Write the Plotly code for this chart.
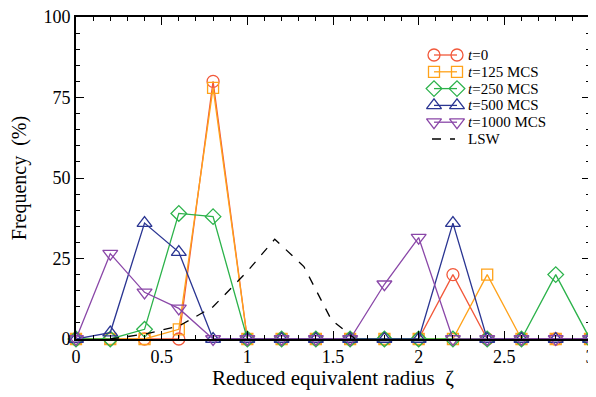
import plotly.graph_objects as go

# ---- data ----
x_vals = [0.0, 0.2, 0.4, 0.6, 0.8, 1.0, 1.2, 1.4, 1.6, 1.8, 2.0, 2.2, 2.4, 2.6, 2.8, 3.0]
t0 = [0, 0, 0, 0, 80, 0, 0, 0, 0, 0, 0, 20, 0, 0, 0, 0]
t125 = [0, 0, 0, 3, 78, 0, 0, 0, 0, 0, 0, 0, 20, 0, 0, 0]
t250 = [0, 0, 3, 39, 38, 0, 0, 0, 0, 0, 0, 0, 0, 0, 20, 0]
t500 = [0, 2, 36, 27, 0, 0, 0, 0, 0, 0, 0, 36, 0, 0, 0, 0]
t1000 = [0, 26.5, 14.5, 9.5, 0, 0, 0, 0, 0, 17, 31.5, 0, 0, 0, 0, 0]
lsw_x = [0.2, 0.4, 0.6, 0.8, 1.0, 1.16, 1.33, 1.49, 1.63]
lsw_y = [0, 1.5, 4, 10, 21, 31, 22.5, 6, 0]
x_ticks = [0, 0.5, 1, 1.5, 2, 2.5, 3]
x_ticklabels = ["0", "0.5", "1", "1.5", "2", "2.5", "3"]
y_ticks = [0, 25, 50, 75, 100]

names = ["<i>t</i>=0", "<i>t</i>=125 MCS", "<i>t</i>=250 MCS", "<i>t</i>=500 MCS", "<i>t</i>=1000 MCS"]
series = [t0, t125, t250, t500, t1000]
colors = ["#f2583a", "#ffa21a", "#2bb24a", "#2a3592", "#8a47a8"]
symbols = ["circle-open", "square-open", "diamond-open", "triangle-up-open", "triangle-down-open"]
sizes = [12, 11, 12, 13, 13]

font_family = '"Liberation Serif", "Times New Roman", "DejaVu Serif", serif'
fig = go.Figure()
for nm, ys, c, s, sz in zip(names, series, colors, symbols, sizes):
    fig.add_trace(go.Scatter(
        x=x_vals, y=ys, name=nm, mode="lines+markers",
        line=dict(color=c, width=1.3),
        marker=dict(symbol=s, size=sz, color=c, line=dict(width=1.3, color=c)),
        cliponaxis=False, showlegend=False,
    ))
fig.add_trace(go.Scatter(
    x=lsw_x, y=lsw_y, name="LSW", mode="lines",
    line=dict(color="black", width=1.3, dash="dash"), showlegend=False,
))

# ---- hand-drawn legend (two markers per sample, as in the original) ----
plot_w, plot_h = 514, 322
leg_x0, leg_x1, leg_text_x = 358, 381, 391   # px from plot left
leg_row0, leg_dy = 38, 16.8                    # px from plot top
for i, (nm, c, s, sz) in enumerate(zip(names, colors, symbols, sizes)):
    yy = leg_row0 + i * leg_dy
    fig.add_trace(go.Scatter(
        x=[leg_x0, leg_x1], y=[yy, yy], xaxis="x2", yaxis="y2", mode="lines+markers",
        line=dict(color=c, width=1.3),
        marker=dict(symbol=s, size=sz, color=c, line=dict(width=1.3, color=c)),
        cliponaxis=False, showlegend=False, hoverinfo="skip",
    ))
    fig.add_annotation(x=leg_text_x, y=yy, xref="x2", yref="y2", text=nm, showarrow=False,
                       xanchor="left", yanchor="middle", borderpad=0,
                       font=dict(family=font_family, size=15, color="black"))
yy = leg_row0 + 5 * leg_dy
fig.add_trace(go.Scatter(
    x=[leg_x0 - 2, leg_x1 - 2], y=[yy, yy], xaxis="x2", yaxis="y2", mode="lines",
    line=dict(color="black", width=1.3, dash="dash"),
    cliponaxis=False, showlegend=False, hoverinfo="skip",
))
fig.add_annotation(x=leg_text_x, y=yy, xref="x2", yref="y2", text="LSW", showarrow=False,
                   xanchor="left", yanchor="middle", borderpad=0,
                   font=dict(family=font_family, size=15, color="black"))

axis_common = dict(
    showline=True, linecolor="black", linewidth=1.8, mirror="allticks",
    ticks="inside", tickcolor="black", tickwidth=1.3,
    showgrid=False, zeroline=False, automargin=False, ticklabeloverflow="allow",
    tickfont=dict(family=font_family, size=18, color="black"),
)
fig.update_layout(
    xaxis=dict(
        range=[0, 3], tickmode="array", tickvals=x_ticks, ticktext=x_ticklabels, ticklen=8,
        minor=dict(dtick=0.1, ticks="inside", ticklen=4, tickcolor="black", tickwidth=1.2),
        title=dict(text="Reduced equivalent radius\u00a0\u00a0ζ",
                   font=dict(family=font_family, size=21, color="black"), standoff=5),
        **axis_common,
    ),
    yaxis=dict(
        range=[0, 100], tickmode="array", tickvals=y_ticks, ticklen=8,
        minor=dict(dtick=5, ticks="inside", ticklen=4, tickcolor="black", tickwidth=1.2),
        title=dict(text="Frequency\u00a0\u00a0(%)",
                   font=dict(family=font_family, size=20, color="black"), standoff=14),
        **axis_common,
    ),
    xaxis2=dict(overlaying="x", range=[0, plot_w], visible=False, fixedrange=True),
    yaxis2=dict(overlaying="y", range=[plot_h, 0], visible=False, fixedrange=True),
    width=592, height=389,
    margin=dict(l=68, r=10, t=9, b=58),
    paper_bgcolor="white", plot_bgcolor="white",
    font=dict(family=font_family, color="black"),
    showlegend=False,
)
fig.write_html("out.html")
